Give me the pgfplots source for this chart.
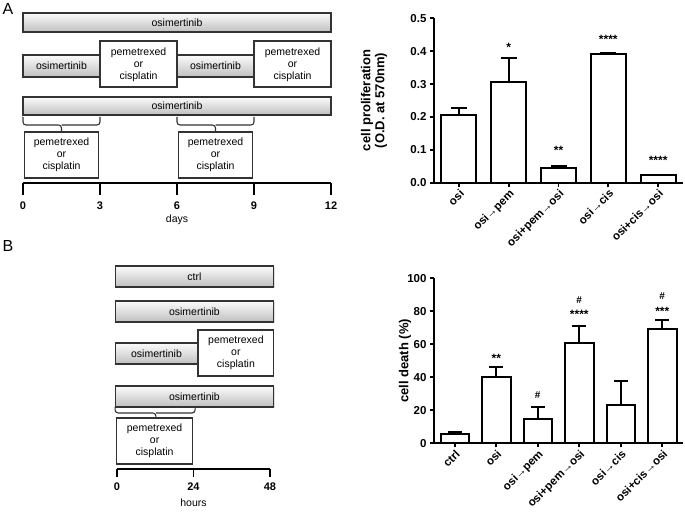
\documentclass[border=0pt]{standalone}
\usepackage{fontspec}
\setmainfont{Liberation Sans}
\usepackage{pgfplots}
\pgfplotsset{compat=1.18}
\usetikzlibrary{shadows}
\tikzset{
  osibar/.style={draw=black!80, line width=1.1pt, top color=gray!3, bottom color=gray!50,
    drop shadow={opacity=0.25, shadow xshift=1.2pt, shadow yshift=-1.2pt}},
  whitebox/.style={draw=black!80, line width=1.1pt, fill=white},
  lab/.style={font=\fontsize{10.5}{12}\selectfont, align=center, inner sep=0pt},
  brc/.style={draw=black!80, line width=1.1pt, rounded corners=3pt},
}
\pgfplotsset{
  barchart/.style={
    anchor=south west, scale only axis, width=249pt, clip=false,
    axis lines*=left, axis line style={line width=2pt, -},
    tick align=outside, major tick length=4pt,
    every tick/.style={line width=1.8pt, black},
    tick label style={font=\fontsize{11.5}{13}\selectfont\bfseries},
    xticklabel style={rotate=45, anchor=north east, inner sep=1pt},
    ylabel style={font=\fontsize{13}{14}\selectfont\bfseries, align=center, anchor=center},
    /pgf/number format/assume math mode=true,
  },
  timeline/.style={
    anchor=south west, scale only axis, clip=false,
    axis x line*=bottom, axis y line=none,
    x axis line style={line width=1.6pt, -},
    tick align=outside,
    every tick/.style={line width=1.6pt, black},
    xticklabel style={font=\fontsize{11}{12}\selectfont\bfseries},
    xlabel style={font=\fontsize{10.5}{12}\selectfont, anchor=center},
    /pgf/number format/assume math mode=true,
  },
}
\begin{document}
\begin{tikzpicture}
\path[use as bounding box] (0,0) rectangle (685pt,516pt);
\node[font=\fontsize{16}{18}\selectfont] at (8pt,507pt) {A};
\node[font=\fontsize{16}{18}\selectfont] at (8pt,270pt) {B};

% ---------- Schematic A ----------
\begin{axis}[timeline, at={(23pt,333pt)}, width=308pt, height=170pt,
  xmin=0, xmax=12, ymin=0, ymax=170, xtick={0,3,6,9,12}, major tick length=12pt,
  xticklabel style={yshift=-3pt},
  xlabel={days}, xlabel style={at={(axis description cs:0.5,0)}, yshift=-37pt}]
\addplot[draw=none] coordinates {(0,0) (12,0)};
\draw[osibar] (axis cs:0,170) rectangle (axis cs:12,151);
\node[lab] at (axis cs:6,160.5) {osimertinib};
\draw[osibar] (axis cs:0,128) rectangle (axis cs:3,106);
\node[lab] at (axis cs:1.5,117) {osimertinib};
\draw[whitebox] (axis cs:3,142) rectangle (axis cs:6,96);
\node[lab] at (axis cs:4.5,118) {pemetrexed\\or\\cisplatin};
\draw[osibar] (axis cs:6,128) rectangle (axis cs:9,106);
\node[lab] at (axis cs:7.5,117) {osimertinib};
\draw[whitebox] (axis cs:9,142) rectangle (axis cs:12,96);
\node[lab] at (axis cs:10.5,118) {pemetrexed\\or\\cisplatin};
\draw[osibar] (axis cs:0,86) rectangle (axis cs:12,68);
\node[lab] at (axis cs:6,77) {osimertinib};
\draw[brc] (axis cs:0,66) |- (axis cs:1.5,58) -- (axis cs:1.5,51);
\draw[brc] (axis cs:3,66) |- (axis cs:1.5,58);
\draw[brc] (axis cs:6,66) |- (axis cs:7.5,58) -- (axis cs:7.5,51);
\draw[brc] (axis cs:9,66) |- (axis cs:7.5,58);
\draw[whitebox] (axis cs:0.05,51) rectangle (axis cs:2.95,5);
\node[lab] at (axis cs:1.5,28) {pemetrexed\\or\\cisplatin};
\draw[whitebox] (axis cs:6.05,51) rectangle (axis cs:8.95,5);
\node[lab] at (axis cs:7.5,28) {pemetrexed\\or\\cisplatin};
\end{axis}

% ---------- Schematic B ----------
\begin{axis}[timeline, at={(117pt,47pt)}, width=153pt, height=203pt,
  xmin=0, xmax=48, ymin=0, ymax=203, xtick={0,24,48}, major tick length=8pt,
  xticklabel style={yshift=-2pt},
  xlabel={hours}, xlabel style={at={(axis description cs:0.5,0)}, yshift=-34pt}]
\addplot[draw=none] coordinates {(0,0) (48,0)};
\draw[osibar] (axis cs:-0.6,203) rectangle (axis cs:49.2,182);
\node[lab] at (axis cs:24.3,192.5) {ctrl};
\draw[osibar] (axis cs:-0.6,168) rectangle (axis cs:49.2,147);
\node[lab] at (axis cs:24.3,157.5) {osimertinib};
\draw[osibar] (axis cs:-0.6,126) rectangle (axis cs:25.4,105);
\node[lab] at (axis cs:12.4,115.5) {osimertinib};
\draw[whitebox] (axis cs:25.4,139) rectangle (axis cs:49.2,93);
\node[lab] at (axis cs:37.3,116) {pemetrexed\\or\\cisplatin};
\draw[osibar] (axis cs:-0.6,83) rectangle (axis cs:49.2,62);
\node[lab] at (axis cs:24.3,72.5) {osimertinib};
\draw[brc] (axis cs:-0.6,62) |- (axis cs:12.2,56) -- (axis cs:12.2,51);
\draw[brc] (axis cs:24.5,62) |- (axis cs:12.2,56);
\draw[whitebox] (axis cs:-0.1,51) rectangle (axis cs:23.6,5);
\node[lab] at (axis cs:11.8,28) {pemetrexed\\or\\cisplatin};
\end{axis}

% ---------- Bar chart A ----------
\begin{axis}[barchart, at={(434pt,333.3pt)}, height=164.4pt,
  xmin=-0.5, xmax=4.5, ymin=0, ymax=0.5,
  xtick={0,1,2,3,4},
  xticklabels={osi, osi→pem, osi+pem→osi, osi→cis, osi+cis→osi},
  ytick={0,0.1,0.2,0.3,0.4,0.5},
  yticklabel style={/pgf/number format/.cd, fixed, fixed zerofill, precision=1},
  ylabel={cell proliferation\\(O.D. at 570nm)},
  ylabel style={at={(axis description cs:-0.241,0.5)}}]
\addplot[ybar, bar width=35pt, fill=white, draw=black, line width=2pt,
  error bars/.cd, y dir=plus, y explicit,
  error bar style={line width=1.8pt, black},
  error mark options={rotate=90, mark size=8pt, line width=1.8pt, black}]
  coordinates {
  (0,0.205) +- (0,0.023)
  (1,0.305) +- (0,0.075)
  (2,0.045) +- (0,0.006)
  (3,0.390) +- (0,0.006)
  (4,0.022) +- (0,0.002)
  };
\node[font=\fontsize{12}{14}\selectfont\bfseries] at (axis cs:1,0.413) {*};
\node[font=\fontsize{12}{14}\selectfont\bfseries] at (axis cs:2,0.099) {**};
\node[font=\fontsize{12}{14}\selectfont\bfseries] at (axis cs:3,0.436) {****};
\node[font=\fontsize{12}{14}\selectfont\bfseries] at (axis cs:4,0.067) {****};
\end{axis}

% ---------- Bar chart B ----------
\begin{axis}[barchart, at={(434pt,72.7pt)}, height=165pt,
  xmin=-0.5, xmax=5.5, ymin=0, ymax=100,
  xtick={0,1,2,3,4,5},
  xticklabels={ctrl, osi, osi→pem, osi+pem→osi, osi→cis, osi+cis→osi},
  ytick={0,20,40,60,80,100},
  ylabel={cell death (\%)},
  ylabel style={at={(axis description cs:-0.116,0.5)}}]
\addplot[ybar, bar width=28.5pt, fill=white, draw=black, line width=2pt,
  error bars/.cd, y dir=plus, y explicit,
  error bar style={line width=1.8pt, black},
  error mark options={rotate=90, mark size=7pt, line width=1.8pt, black}]
  coordinates {
  (0,5.7) +- (0,1.2)
  (1,40.0) +- (0,6.0)
  (2,15.0) +- (0,7.0)
  (3,60.5) +- (0,10.5)
  (4,23.2) +- (0,14.6)
  (5,69.3) +- (0,5.2)
  };
\node[font=\fontsize{12}{14}\selectfont\bfseries] at (axis cs:1,51.5) {**};
\node[font=\fontsize{10}{12}\selectfont\bfseries] at (axis cs:2,29.3) {\#};
\node[font=\fontsize{10}{12}\selectfont\bfseries] at (axis cs:3,86.8) {\#};
\node[font=\fontsize{12}{14}\selectfont\bfseries] at (axis cs:3,78.4) {****};
\node[font=\fontsize{10}{12}\selectfont\bfseries] at (axis cs:5,89.3) {\#};
\node[font=\fontsize{12}{14}\selectfont\bfseries] at (axis cs:5,79.8) {***};
\end{axis}
\end{tikzpicture}
\end{document}
